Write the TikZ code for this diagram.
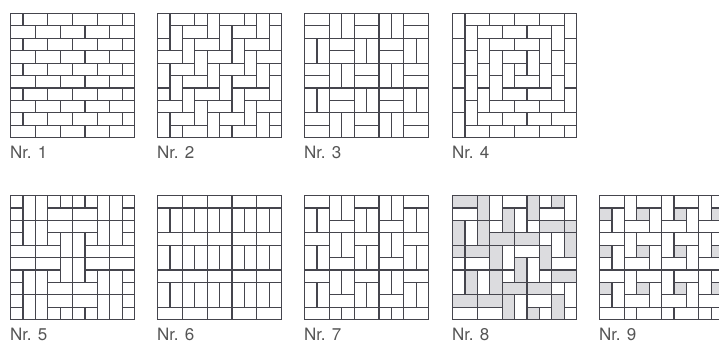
\documentclass[tikz,border=0pt]{standalone}
\usepackage{fontspec}
\setmainfont{TeX Gyre Heros}
\definecolor{ln}{HTML}{45454D}
\definecolor{gf}{HTML}{DCDCDF}
\definecolor{lab}{HTML}{555555}
\newcommand\br[4]{\draw[brick] (#1,#2) rectangle ++(#3,#4);}
\newcommand\gb[4]{\filldraw[brick,fill=gf] (#1,#2) rectangle ++(#3,#4);}
\begin{document}
\begin{tikzpicture}[x=1pt,y=-1pt,
  brick/.style={draw=ln,line width=1.2pt},
  pat/.style={x=12.4pt,y=-12.4pt},
  lbl/.style={anchor=base west,text=lab,font=\fontsize{17}{17}\selectfont,inner sep=0pt}]
\useasboundingbox (0,0) rectangle (719,345);
% ---------- Nr. 1
\begin{scope}[shift={(10.5,13.5)},pat]
 \begin{scope}\clip (0,0) rectangle (10,10);
  \foreach \r in {0,2,...,8}{\foreach \c in {-1,1,...,9}{\br{\c}{\r}{2}{1}}}
  \foreach \r in {1,3,...,9}{\foreach \c in {0,2,...,8}{\br{\c}{\r}{2}{1}}}
 \end{scope}
 \draw[brick] (0,0) rectangle (10,10);
\end{scope}
% ---------- Nr. 2
\begin{scope}[shift={(157.5,13.5)},pat]
 \begin{scope}\clip (0,0) rectangle (10,10);
  \foreach \r in {-2,...,10}{\foreach \s in {-4,...,3}{
    \br{1+\r+4*\s}{\r}{2}{1}
    \br{\r+4*\s}{\r}{1}{2}}}
 \end{scope}
 \draw[brick] (0,0) rectangle (10,10);
\end{scope}
% ---------- Nr. 3
\begin{scope}[shift={(304.5,13.5)},pat]
 \foreach \i in {0,...,4}{\foreach \j in {0,...,4}{
   \pgfmathtruncatemacro\t{mod(\i+\j,2)}
   \ifnum\t=0
     \br{2*\i}{2*\j}{2}{1}\br{2*\i}{2*\j+1}{2}{1}
   \else
     \br{2*\i}{2*\j}{1}{2}\br{2*\i+1}{2*\j}{1}{2}
   \fi}}
 \draw[brick] (0,0) rectangle (10,10);
\end{scope}
% ---------- Nr. 4 (pinwheel spiral)
\begin{scope}[shift={(452.5,13.5)},pat]
 \begin{scope}\clip (0,0) rectangle (10,10);
  \foreach \n in {3,5,7,9,11}{
    \pgfmathtruncatemacro\a{5-(\n-1)/2}
    \pgfmathtruncatemacro\b{4-(\n-1)/2}
    \pgfmathtruncatemacro\h{(\n-1)/2-1}
    \foreach \t in {0,...,\h}{
      \br{\a+2*\t}{\b}{2}{1}
      \br{\a+\n-1}{\b+2*\t}{1}{2}
      \br{\a+1+2*\t}{\b+\n-1}{2}{1}
      \br{\a}{\b+1+2*\t}{1}{2}}}
  \br{5}{4}{1}{1}
 \end{scope}
 \draw[brick] (0,0) rectangle (10,10);
\end{scope}
% ---------- Nr. 5
\begin{scope}[shift={(10.5,195.5)},pat]
 \foreach \r in {0,1,2,3,6,7,8,9}{\br{0}{\r}{1}{1}\br{9}{\r}{1}{1}}
 \foreach \r in {0,2,6,8}{\br{1}{\r}{1}{2}\br{2}{\r}{1}{2}\br{7}{\r}{1}{2}\br{8}{\r}{1}{2}}
 \foreach \r in {4,5}{\foreach \c in {0,2,6,8}{\br{\c}{\r}{2}{1}}}
 \foreach \c in {3,4,5,6}{\br{\c}{0}{1}{1}\br{\c}{9}{1}{1}}
 \foreach \r in {1,2,7,8}{\br{3}{\r}{2}{1}\br{5}{\r}{2}{1}}
 \br{3}{3}{1}{1}\br{6}{3}{1}{1}\br{3}{6}{1}{1}\br{6}{6}{1}{1}
 \foreach \r in {3,5}{\br{4}{\r}{1}{2}\br{5}{\r}{1}{2}}
 \draw[brick] (0,0) rectangle (10,10);
\end{scope}
% ---------- Nr. 6
\begin{scope}[shift={(157.5,195.5)},pat]
 \foreach \r in {0,3,6,9}{\foreach \c in {0,2,...,8}{\br{\c}{\r}{2}{1}}}
 \foreach \r in {1,4,7}{\foreach \c in {0,...,9}{\br{\c}{\r}{1}{2}}}
 \draw[brick] (0,0) rectangle (10,10);
\end{scope}
% ---------- Nr. 7
\begin{scope}[shift={(304.5,195.5)},pat]
 \begin{scope}\clip (0,0) rectangle (10,10);
  \foreach \p in {0,4,8}{
    \foreach \r in {0,3,6,9}{\br{\p}{\r}{2}{1}}
    \foreach \r in {1,4,7}{\br{\p}{\r}{1}{2}\br{\p+1}{\r}{1}{2}}}
  \foreach \p in {2,6}{
    \foreach \r in {2,5,8}{\br{\p}{\r}{2}{1}}
    \foreach \r in {0,3,6,9}{\br{\p}{\r}{1}{2}\br{\p+1}{\r}{1}{2}}}
 \end{scope}
 \draw[brick] (0,0) rectangle (10,10);
\end{scope}
% ---------- Nr. 8 (two-tone)
\begin{scope}[shift={(452.5,195.5)},pat]
 \begin{scope}\clip (0,0) rectangle (10,10);
  \gb{0}{0}{2}{1}\br{0}{1}{2}{1}
  \gb{2}{0}{1}{2}\br{3}{0}{1}{2}
  \gb{4}{-1}{2}{1}\br{4}{0}{2}{1}
  \gb{4}{1}{1}{2}\br{5}{1}{1}{2}
  \gb{6}{0}{1}{2}
  \br{7}{-1}{1}{2}\gb{8}{-1}{1}{2}
  \br{7}{1}{2}{1}\gb{7}{2}{2}{1}
  \br{9}{0}{1}{2}
  \gb{0}{2}{1}{2}\br{1}{2}{1}{2}
  \gb{2}{2}{1}{2}\br{3}{2}{1}{1}\gb{3}{3}{2}{1}
  \br{6}{2}{1}{1}
  \gb{9}{2}{2}{1}
  \gb{5}{3}{2}{1}\br{5}{4}{2}{1}
  \br{7}{3}{1}{1}
  \br{8}{3}{1}{2}\gb{9}{3}{1}{2}
  \gb{-1}{4}{2}{1}\br{-1}{5}{2}{1}
  \gb{1}{4}{2}{1}\br{1}{5}{2}{1}
  \gb{3}{4}{1}{2}\br{4}{4}{1}{2}
  \gb{7}{4}{1}{2}
  \gb{5}{5}{1}{2}\br{6}{5}{1}{2}
  \br{8}{5}{2}{1}\gb{8}{6}{2}{1}
  \br{0}{6}{1}{2}
  \gb{1}{6}{1}{2}\br{2}{6}{1}{2}
  \gb{3}{6}{1}{2}
  \br{4}{6}{1}{1}
  \br{7}{6}{1}{1}
  \gb{4}{7}{2}{1}
  \gb{6}{7}{2}{1}\br{6}{8}{2}{1}
  \br{8}{7}{1}{1}
  \br{9}{7}{1}{2}
  \gb{0}{8}{2}{1}\br{0}{9}{2}{1}
  \gb{2}{8}{2}{1}\br{2}{9}{2}{1}
  \gb{4}{8}{1}{2}\br{5}{8}{1}{2}
  \gb{8}{8}{1}{2}
  \gb{6}{9}{1}{2}\br{7}{9}{1}{2}
  \br{9}{9}{2}{1}
 \end{scope}
 \draw[brick] (0,0) rectangle (10,10);
\end{scope}
% ---------- Nr. 9
\begin{scope}[shift={(599.5,195.5)},pat]
 \begin{scope}\clip (0,0) rectangle (10,10);
  \foreach \i in {-1,...,3}{\foreach \j in {-1,...,3}{
    \br{3*\i}{3*\j}{2}{1}
    \br{3*\i+2}{3*\j}{1}{2}
    \gb{3*\i}{3*\j+1}{1}{1}
    \br{3*\i+1}{3*\j+1}{1}{2}
    \br{3*\i+2}{3*\j+2}{2}{1}}}
 \end{scope}
 \draw[brick] (0,0) rectangle (10,10);
\end{scope}
% ---------- labels
\node[lbl] (l1) at (10,158) {Nr. 1};
\node[lbl] (l2) at (157,158) {Nr. 2};
\node[lbl] (l3) at (304,158) {Nr. 3};
\node[lbl] (l4) at (452,158) {Nr. 4};
\node[lbl] (l5) at (10,340) {Nr. 5};
\node[lbl] (l6) at (157,340) {Nr. 6};
\node[lbl] (l7) at (304,340) {Nr. 7};
\node[lbl] (l8) at (452,340) {Nr. 8};
\node[lbl] (l9) at (599,340) {Nr. 9};
\end{tikzpicture}
\end{document}
